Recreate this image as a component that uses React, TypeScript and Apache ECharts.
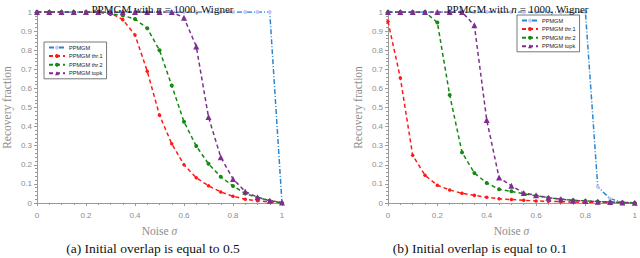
import React, { useEffect, useRef } from "react";
import * as echarts from "echarts";

const sigma = [0, 0.05, 0.1, 0.15, 0.2, 0.25, 0.3, 0.35, 0.4, 0.45, 0.5, 0.55, 0.6, 0.65, 0.7, 0.75, 0.8, 0.85, 0.9, 0.95, 1];

const seriesNames = ["PPMGM", "PPMGM thr.1", "PPMGM thr.2", "PPMGM topk"];

// (a) initial overlap 0.5
const ppmgmA = [1, 1, 1, 1, 1, 1, 1, 1, 1, 1, 1, 1, 1, 1, 1, 1, 1, 1, 1, 1, 0];
const thr1A = [1, 1, 1, 1, 1, 1, 0.995, 0.96, 0.88, 0.69, 0.46, 0.31, 0.2, 0.132, 0.09, 0.058, 0.035, 0.02, 0.012, 0.005, 0];
const thr2A = [1, 1, 1, 1, 1, 1, 0.99, 0.982, 0.963, 0.915, 0.8, 0.615, 0.425, 0.298, 0.205, 0.137, 0.089, 0.05, 0.028, 0.012, 0];
const topkA = [1, 1, 1, 1, 1, 1, 1, 1, 1, 1, 1, 1, 0.97, 0.82, 0.45, 0.24, 0.126, 0.06, 0.03, 0.012, 0.003];

// (b) initial overlap 0.1
const ppmgmB = [1, 1, 1, 1, 1, 1, 1, 1, 1, 1, 1, 1, 1, 1, 1, 1, 1, 0.085, 0.022, 0.005, 0];
const thr1B = [0.95, 0.655, 0.25, 0.145, 0.093, 0.068, 0.051, 0.04, 0.03, 0.022, 0.018, 0.014, 0.011, 0.009, 0.007, 0.005, 0.004, 0.003, 0.002, 0.001, 0];
const thr2B = [1, 1, 1, 1, 0.945, 0.565, 0.265, 0.157, 0.105, 0.072, 0.061, 0.048, 0.038, 0.028, 0.02, 0.015, 0.011, 0.008, 0.005, 0.003, 0];
const topkB = [1, 1, 1, 1, 1, 1, 1, 0.93, 0.435, 0.133, 0.09, 0.052, 0.04, 0.027, 0.02, 0.013, 0.01, 0.007, 0.005, 0.003, 0.001];

const captions = ["(a) Initial overlap is equal to 0.5", "(b) Initial overlap is equal to 0.1"];

const COLORS = ["#2b86d1", "#ff1a1a", "#138a13", "#7e2f8e"];
const GRAY = "#8c8c8c";

function pairs(ys: number[]) {
  return ys.map((y, i) => [sigma[i], y]);
}

export default function App() {
  const ref = useRef<HTMLDivElement>(null);
  useEffect(() => {
    if (!ref.current) return;
    const chart = echarts.init(ref.current, undefined, { renderer: "svg" });
    const styles = [
      { symbol: "circle", symbolSize: 4, lineType: [5, 2, 1, 2], markerColor: "#c9c7f2" },
      { symbol: "circle", symbolSize: 3.5, lineType: [4, 3], markerColor: COLORS[1] },
      { symbol: "circle", symbolSize: 4, lineType: [4, 3], markerColor: COLORS[2] },
      { symbol: "triangle", symbolSize: 6, lineType: [4, 3], markerColor: COLORS[3] },
    ];
    const panels = [
      [ppmgmA, thr1A, thr2A, topkA],
      [ppmgmB, thr1B, thr2B, topkB],
    ];
    const series: any[] = [];
    panels.forEach((panel, p) => {
      panel.forEach((ys, k) => {
        const s = styles[k];
        series.push({
          type: "line",
          name: seriesNames[k],
          xAxisIndex: p,
          yAxisIndex: p,
          data: pairs(ys),
          symbol: s.symbol,
          symbolSize: s.symbolSize,
          showAllSymbol: true,
          z: k === 0 ? 1 : 2 + k,
          lineStyle: { color: COLORS[k], width: 1.5, type: s.lineType },
          itemStyle: { color: s.markerColor, borderWidth: 0 },
          emphasis: { disabled: true },
        });
      });
    });

    const grids = [
      { left: 33, top: 12, width: 249, height: 191 },
      { left: 388, top: 12, width: 249, height: 191 },
    ];
    const fmt = (v: number) => String(parseFloat(v.toFixed(2)));
    const xAxes = grids.map((_, i) => ({
      type: "value",
      gridIndex: i,
      min: 0,
      max: 1,
      interval: 0.2,
      name: "{t|Noise }{i|σ}",
      nameLocation: "middle",
      nameGap: 22,
      nameTextStyle: {
        rich: {
          t: { fontFamily: "Liberation Serif", fontSize: 11.5, color: GRAY },
          i: { fontFamily: "Liberation Serif", fontStyle: "italic", fontSize: 11.5, color: GRAY },
        },
      },
      axisLine: { show: true, lineStyle: { color: "#9a9a9a", width: 1 } },
      axisTick: { show: true, length: 3, lineStyle: { color: "#9a9a9a" } },
      minorTick: { show: true, splitNumber: 4, length: 2, lineStyle: { color: "#9a9a9a" } },
      splitLine: { show: false },
      axisLabel: { formatter: fmt, fontFamily: "Liberation Sans", fontSize: 8, color: GRAY, margin: 8 },
    }));
    const yAxes = grids.map((_, i) => ({
      type: "value",
      gridIndex: i,
      min: 0,
      max: 1,
      interval: 0.1,
      name: "Recovery fraction",
      nameLocation: "middle",
      nameGap: 24,
      nameTextStyle: { fontFamily: "Liberation Serif", fontSize: 11.5, color: GRAY },
      axisLine: { show: true, lineStyle: { color: "#9a9a9a", width: 1 } },
      axisTick: { show: true, length: 3, lineStyle: { color: "#9a9a9a" } },
      minorTick: { show: true, splitNumber: 5, length: 2, lineStyle: { color: "#9a9a9a" } },
      splitLine: { show: false },
      axisLabel: { formatter: fmt, fontFamily: "Liberation Sans", fontSize: 8, color: GRAY, margin: 5 },
    }));

    const titleRich = {
      t: { fontFamily: "Liberation Serif", fontWeight: "normal", fontSize: 11, color: "#111" },
      i: { fontFamily: "Liberation Serif", fontWeight: "normal", fontStyle: "italic", fontSize: 11, color: "#111" },
    };
    const titleText = "{t|PPMGM with }{i|n}{t| = 1000, Wigner}";

    const legendBase = {
      orient: "vertical",
      data: seriesNames,
      itemWidth: 16,
      itemHeight: 5,
      itemGap: 2.6,
      padding: [2.5, 4, 2.5, 4],
      backgroundColor: "#fff",
      borderColor: "#555",
      borderWidth: 0.8,
      borderRadius: 0,
      selectedMode: false,
      textStyle: { fontFamily: "Liberation Sans", fontSize: 5.6, color: "#222", padding: [0, 0, 0, -1] },
    };

    chart.setOption({
      animation: false,
      backgroundColor: "#fff",
      title: [
        { text: titleText, left: 157.5, top: -1.5, textAlign: "center", textStyle: { fontWeight: "normal", rich: titleRich } },
        { text: titleText, left: 512.5, top: -1.5, textAlign: "center", textStyle: { fontWeight: "normal", rich: titleRich } },
      ],
      legend: [
        { ...legendBase, left: 44, top: 42 },
        { ...legendBase, left: 517, top: 15 },
      ],
      grid: grids,
      xAxis: xAxes,
      yAxis: yAxes,
      series,
      graphic: [
        {
          type: "text",
          x: 153,
          y: 241,
          style: { text: captions[0], fontFamily: "Liberation Serif", fontSize: 13.5, fill: "#111", textAlign: "center" },
        },
        {
          type: "text",
          x: 480,
          y: 241,
          style: { text: captions[1], fontFamily: "Liberation Serif", fontSize: 13.5, fill: "#111", textAlign: "center" },
        },
      ],
    });
    return () => chart.dispose();
  }, []);
  return <div ref={ref} style={{ position: "fixed", left: 0, top: 0, width: 640, height: 258 }} />;
}
